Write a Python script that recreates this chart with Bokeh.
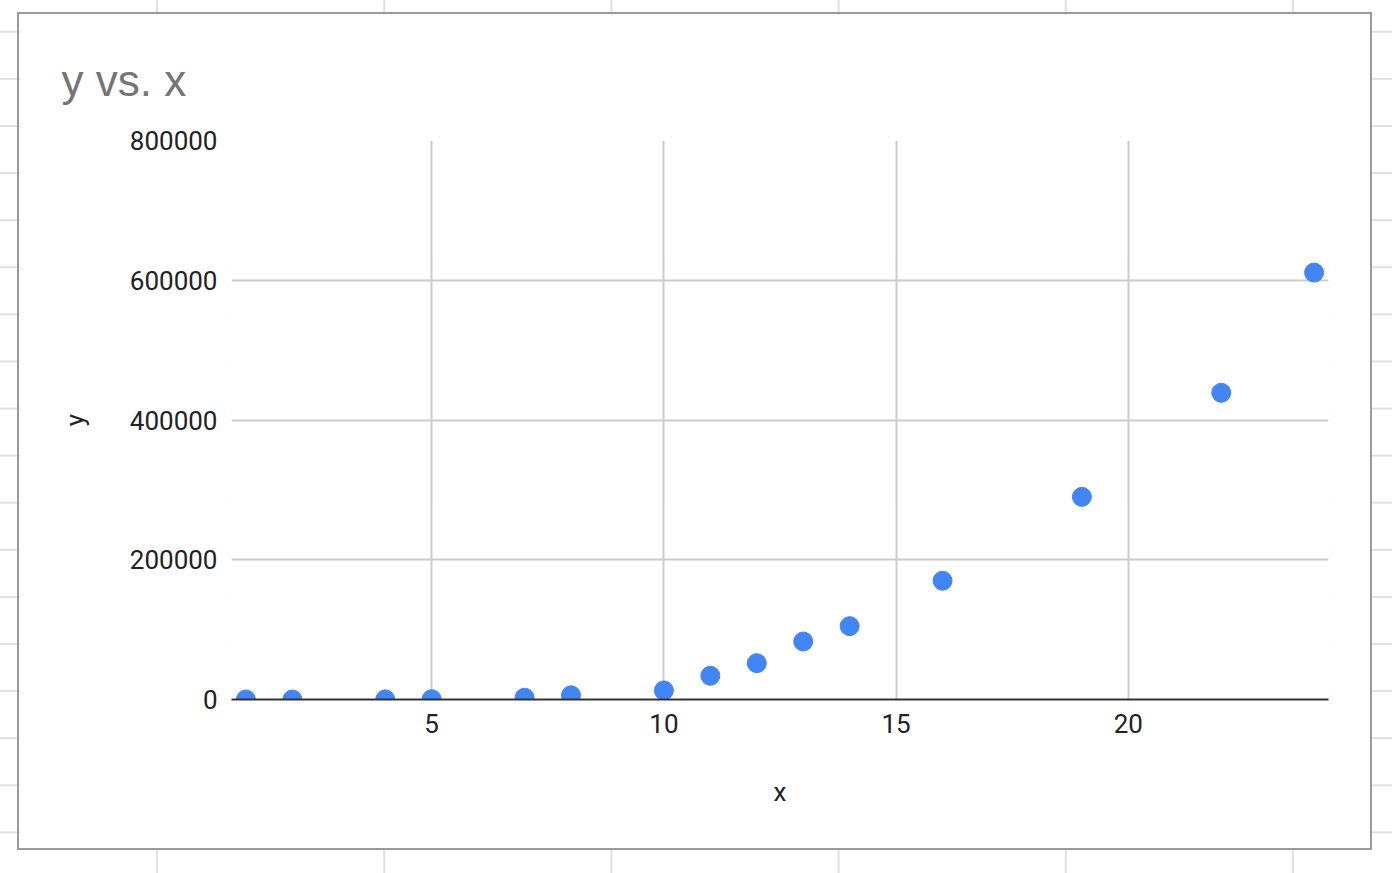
from bokeh.plotting import figure
from bokeh.models import Range1d, FixedTicker, Spacer
from bokeh.layouts import column, row
from bokeh.embed import file_html
from bokeh.resources import INLINE

# values
x_vals = [1, 2, 4, 5, 7, 8, 10, 11, 12, 13, 14, 16, 19, 22, 24]
y_vals = [1, 10, 200, 500, 2500, 6000, 13000, 34000, 52000, 83000, 105000,
          170000, 290000, 439000, 611000]
x_ticks = [5, 10, 15, 20]
y_ticks = [0, 200000, 400000, 600000, 800000]
y_tick_labels = ["0", "200000", "400000", "600000", "800000"]

FONT = "Roboto"

p = figure(width=1355, height=838, output_backend="svg", toolbar_location=None,
           x_range=Range1d(0.69, 24.31), y_range=Range1d(0, 800000),
           min_border_left=212, min_border_right=46,
           min_border_top=126, min_border_bottom=153)

p.scatter(x_vals, y_vals, size=19, color="#4285f4", line_color="#4285f4")

# title
p.title.text = "y vs. x"
p.title.text_color = "#757575"
p.title.text_font = "Liberation Sans"
p.title.text_font_size = "44px"
p.title.text_font_style = "normal"
p.title.align = "left"
p.title.offset = -170
p.title.standoff = 71

# grid
p.outline_line_color = None
p.xgrid.ticker = FixedTicker(ticks=x_ticks)
p.ygrid.ticker = FixedTicker(ticks=y_ticks)
p.grid.grid_line_color = "#cccccc"
p.grid.grid_line_width = 2

# x axis
p.xaxis.ticker = FixedTicker(ticks=x_ticks)
p.xaxis.axis_label = "x"
p.xaxis.axis_line_color = "#333333"
p.xaxis.axis_line_width = 2
p.xaxis.major_label_standoff = 14
p.xaxis.axis_label_standoff = 41

# y axis
p.yaxis.ticker = FixedTicker(ticks=y_ticks)
p.yaxis.major_label_overrides = dict(zip(y_ticks, y_tick_labels))
p.yaxis.axis_label = "y"
p.yaxis.axis_line_color = None
p.yaxis.major_label_standoff = 14
p.yaxis.axis_label_standoff = 37

for ax in (p.xaxis, p.yaxis):
    ax.major_tick_in = 0
    ax.major_tick_out = 0
    ax.minor_tick_line_color = None
    ax.major_label_text_font = FONT
    ax.major_label_text_font_size = "26px"
    ax.major_label_text_color = "#222222"
    ax.axis_label_text_font = FONT
    ax.axis_label_text_font_size = "26px"
    ax.axis_label_text_font_style = "normal"
    ax.axis_label_text_color = "#222222"

# chart box border
p.styles = {"border": "2px solid #9a9a9a", "box-sizing": "border-box"}

# spreadsheet cells behind the chart
layout = column(Spacer(width=1392, height=12),
                row(Spacer(width=17, height=838), p),
                width=1392, height=873)
layout.styles = {
    "background-image": "linear-gradient(to right, #e0e0e0 2px, transparent 2px), "
                        "linear-gradient(to bottom, #e0e0e0 2px, transparent 2px)",
    "background-size": "227.2px 873px, 1392px 47.1px",
    "background-position": "156px 0px, 0px 30.8px",
    "background-color": "white",
}

open("out.html", "w").write(file_html(layout, INLINE))
